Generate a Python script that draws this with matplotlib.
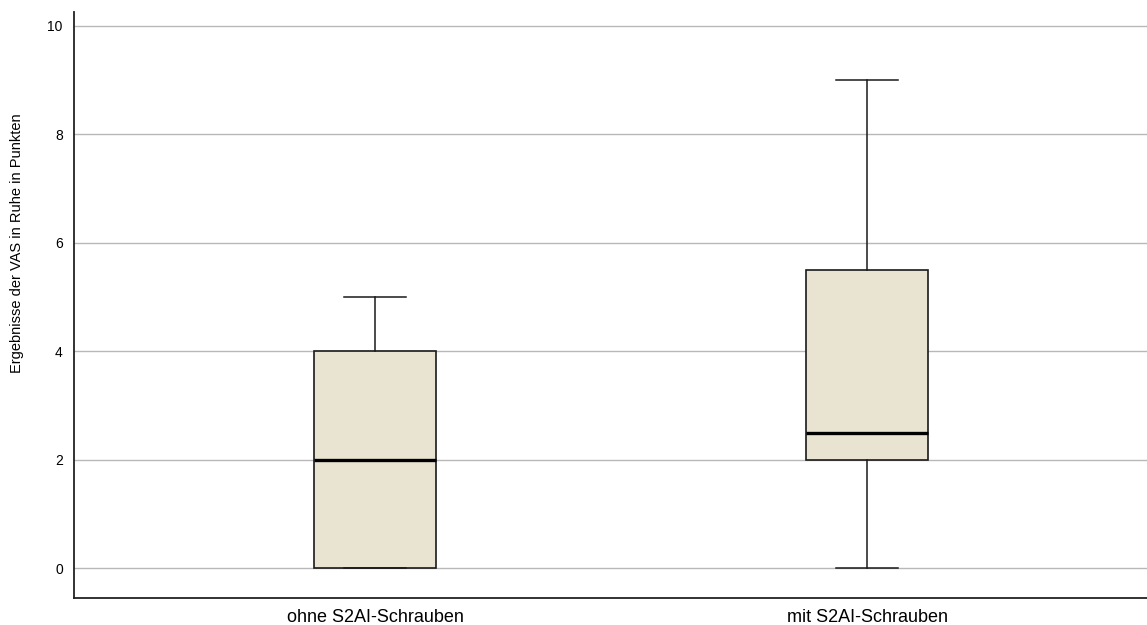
import matplotlib
matplotlib.use("Agg")
import matplotlib.pyplot as plt

plt.rcParams['font.family'] = ['Liberation Sans', 'DejaVu Sans']

# Box plot summary values (VAS at rest, points)
groups = ["ohne S2AI-Schrauben", "mit S2AI-Schrauben"]
whisker_low = [0, 0]
q1 = [0, 2]
median = [2, 2.5]
q3 = [4, 5.5]
whisker_high = [5, 9]
y_ticks = [0, 2, 4, 6, 8, 10]
y_label = "Ergebnisse der VAS in Ruhe in Punkten"

fill_color = "#E9E3D1"

fig = plt.figure(figsize=(11.47, 6.25), dpi=100)
ax = fig.add_axes([0.0645, 0.0432, 0.9355, 0.9376])

stats = []
for i, name in enumerate(groups):
    stats.append(dict(label=name, whislo=whisker_low[i], q1=q1[i], med=median[i],
                      q3=q3[i], whishi=whisker_high[i], fliers=[]))

ax.bxp(stats, positions=range(len(groups)), widths=0.248, patch_artist=True,
       showfliers=False,
       boxprops=dict(facecolor=fill_color, edgecolor="#1a1a1a", linewidth=1.2),
       medianprops=dict(color="black", linewidth=2.4),
       whiskerprops=dict(color="#1a1a1a", linewidth=1.1),
       capprops=dict(color="#1a1a1a", linewidth=1.1),
       capwidths=0.126, zorder=3)

ax.set_xlim(-0.612, 1.569)
ax.set_ylim(-0.553, 10.258)
ax.set_yticks(y_ticks)
ax.set_xticks(range(len(groups)))
ax.set_xticklabels(groups, fontsize=13)
ax.tick_params(axis='y', labelsize=10, length=0, pad=8)
ax.tick_params(axis='x', length=0, pad=8)
ax.yaxis.grid(True, color="#b8b8b8", linewidth=1.0, zorder=0)
ax.set_axisbelow(True)
for side in ("top", "right"):
    ax.spines[side].set_visible(False)
for side in ("left", "bottom"):
    ax.spines[side].set_color("#222222")
    ax.spines[side].set_linewidth(1.3)
ax.set_ylabel(y_label, fontsize=10.5)
ax.yaxis.set_label_coords(-0.047, 0.606)

fig.savefig("out.png", dpi=100)
